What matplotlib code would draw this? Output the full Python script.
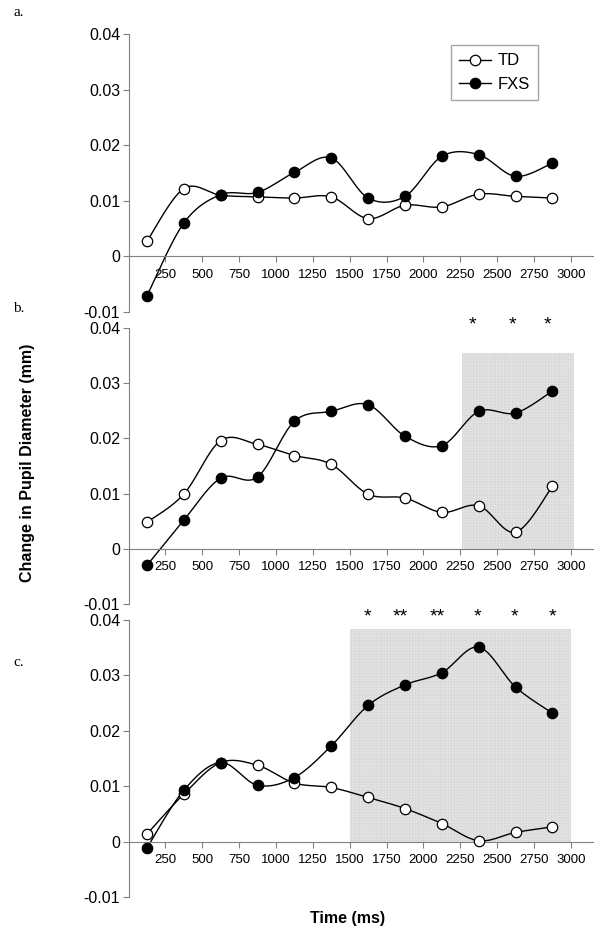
import numpy as np
import matplotlib
matplotlib.use("Agg")
from matplotlib import pyplot as plt

plt.rcParams['font.family'] = ['Liberation Sans', 'DejaVu Sans']
plt.rcParams['hatch.color'] = '#d4d4d4'
plt.rcParams['hatch.linewidth'] = 0.3

times = [125, 375, 625, 875, 1125, 1375, 1625, 1875, 2125, 2375, 2625, 2875]
xticks = [250, 500, 750, 1000, 1250, 1500, 1750, 2000, 2250, 2500, 2750, 3000]
yticks = [-0.01, 0, 0.01, 0.02, 0.03, 0.04]

td_a = [0.0027, 0.0122, 0.0110, 0.0107, 0.0105, 0.0107, 0.0068, 0.0092, 0.0089, 0.0112, 0.0108, 0.0105]
fxs_a = [-0.0071, 0.0060, 0.0111, 0.0115, 0.0151, 0.0177, 0.0105, 0.0108, 0.0180, 0.0183, 0.0144, 0.0168]

td_b = [0.0048, 0.0099, 0.0196, 0.0189, 0.0169, 0.0153, 0.0099, 0.0092, 0.0066, 0.0078, 0.0030, 0.0113]
fxs_b = [-0.0030, 0.0052, 0.0128, 0.0130, 0.0231, 0.0249, 0.0261, 0.0204, 0.0187, 0.0249, 0.0246, 0.0286]

td_c = [0.0014, 0.0086, 0.0143, 0.0138, 0.0106, 0.0098, 0.0080, 0.0060, 0.0033, 0.0002, 0.0017, 0.0027]
fxs_c = [-0.0011, 0.0093, 0.0143, 0.0102, 0.0116, 0.0173, 0.0246, 0.0283, 0.0305, 0.0351, 0.0279, 0.0232]

# shaded windows (x from, x to, top) and significance stars
shade_b = (2265, 3020, 0.0354)
stars_b = [(2335, '*'), (2603, '*'), (2843, '*')]
shade_c = (1500, 3000, 0.0383)
stars_c = [(1620, '*'), (1844, '**'), (2095, '**'), (2366, '*'), (2618, '*'), (2874, '*')]


def smooth(x, y, n=20):
    # excel style smoothed line (catmull-rom through the points)
    x = np.asarray(x, float)
    y = np.asarray(y, float)
    px = np.concatenate([[x[0]], x, [x[-1]]])
    py = np.concatenate([[y[0]], y, [y[-1]]])
    xs, ys = [], []
    t = np.linspace(0, 1, n)
    for i in range(1, len(px) - 2):
        for p, out in ((px, xs), (py, ys)):
            p0, p1, p2, p3 = p[i - 1], p[i], p[i + 1], p[i + 2]
            c1 = p1 + (p2 - p0) / 6
            c2 = p2 - (p3 - p1) / 6
            out.extend((1 - t) ** 3 * p1 + 3 * (1 - t) ** 2 * t * c1 + 3 * (1 - t) * t ** 2 * c2 + t ** 3 * p2)
    return xs, ys


def panel(rect, td, fxs, shade=None, stars=None, legend=False):
    ax = fig.add_axes(rect)
    ax.set_xlim(0, 3150)
    ax.set_ylim(-0.01, 0.04)
    for s in ['top', 'right']:
        ax.spines[s].set_visible(False)
    ax.spines['bottom'].set_position(('data', 0))
    ax.spines['bottom'].set_color('#808080')
    ax.spines['left'].set_color('#808080')
    ax.tick_params(axis='both', direction='out', color='#808080', length=4, width=0.8)
    ax.tick_params(axis='y', labelsize=11.5, pad=2)
    ax.tick_params(axis='x', labelsize=9.5, pad=5)
    ax.set_xticks(xticks)
    ax.set_xticklabels([str(v) for v in xticks])
    ax.set_yticks(yticks)
    ax.set_yticklabels(['-0.01', '0', '0.01', '0.02', '0.03', '0.04'])
    ax.patch.set_alpha(0)

    if shade:
        ax.fill_between([shade[0], shade[1]], 0, shade[2], facecolor='#e3e3e3',
                        edgecolor='#d4d4d4', hatch='++++++', linewidth=0, zorder=0)
    if stars:
        for x, s in stars:
            ax.text(x, 0.0405, s, ha='center', va='center', fontsize=14, clip_on=False)

    for y, fc, lab in ((td, 'white', 'TD'), (fxs, 'black', 'FXS')):
        sx, sy = smooth(times, y)
        ax.plot(sx, sy, color='black', lw=1.0, zorder=2)
        ax.plot(times, y, 'o', ms=7.5, mfc=fc, mec='black', mew=0.9, zorder=3)
        if legend:
            ax.plot([], [], '-o', color='black', lw=1.0, ms=7.5, mfc=fc, mec='black', mew=0.9, label=lab)
    if legend:
        leg = ax.legend(loc='upper left', bbox_to_anchor=(0.6765, 0.990), fontsize=12,
                        frameon=True, fancybox=False, edgecolor='#909090',
                        handlelength=1.9, handletextpad=0.4, borderpad=0.5,
                        labelspacing=0.5)
        leg.get_frame().set_linewidth(1.0)
    return ax


fig = plt.figure(figsize=(6.02, 9.30), dpi=100)

left = 128.5 / 602
width = (593 - 128.5) / 602
panel([left, 1 - 312 / 930, width, (312 - 34) / 930], td_a, fxs_a, legend=True)
panel([left, 1 - 604 / 930, width, (604 - 328) / 930], td_b, fxs_b, shade_b, stars_b)
panel([left, 1 - 897.3 / 930, width, (897.3 - 620) / 930], td_c, fxs_c, shade_c, stars_c)

for lab, y in (('a.', 13), ('b.', 308), ('c.', 663)):
    fig.text(13 / 602, 1 - y / 930, lab, family='Liberation Serif', fontsize=11, va='center')

fig.text(28 / 602, 1 - 463 / 930, 'Change in Pupil Diameter (mm)', rotation=90,
         fontsize=11.5, fontweight='bold', ha='center', va='center')
fig.text(348 / 602, 1 - 918 / 930, 'Time (ms)', fontsize=11.5, fontweight='bold',
         ha='center', va='center')

fig.savefig('out.png', dpi=100)
